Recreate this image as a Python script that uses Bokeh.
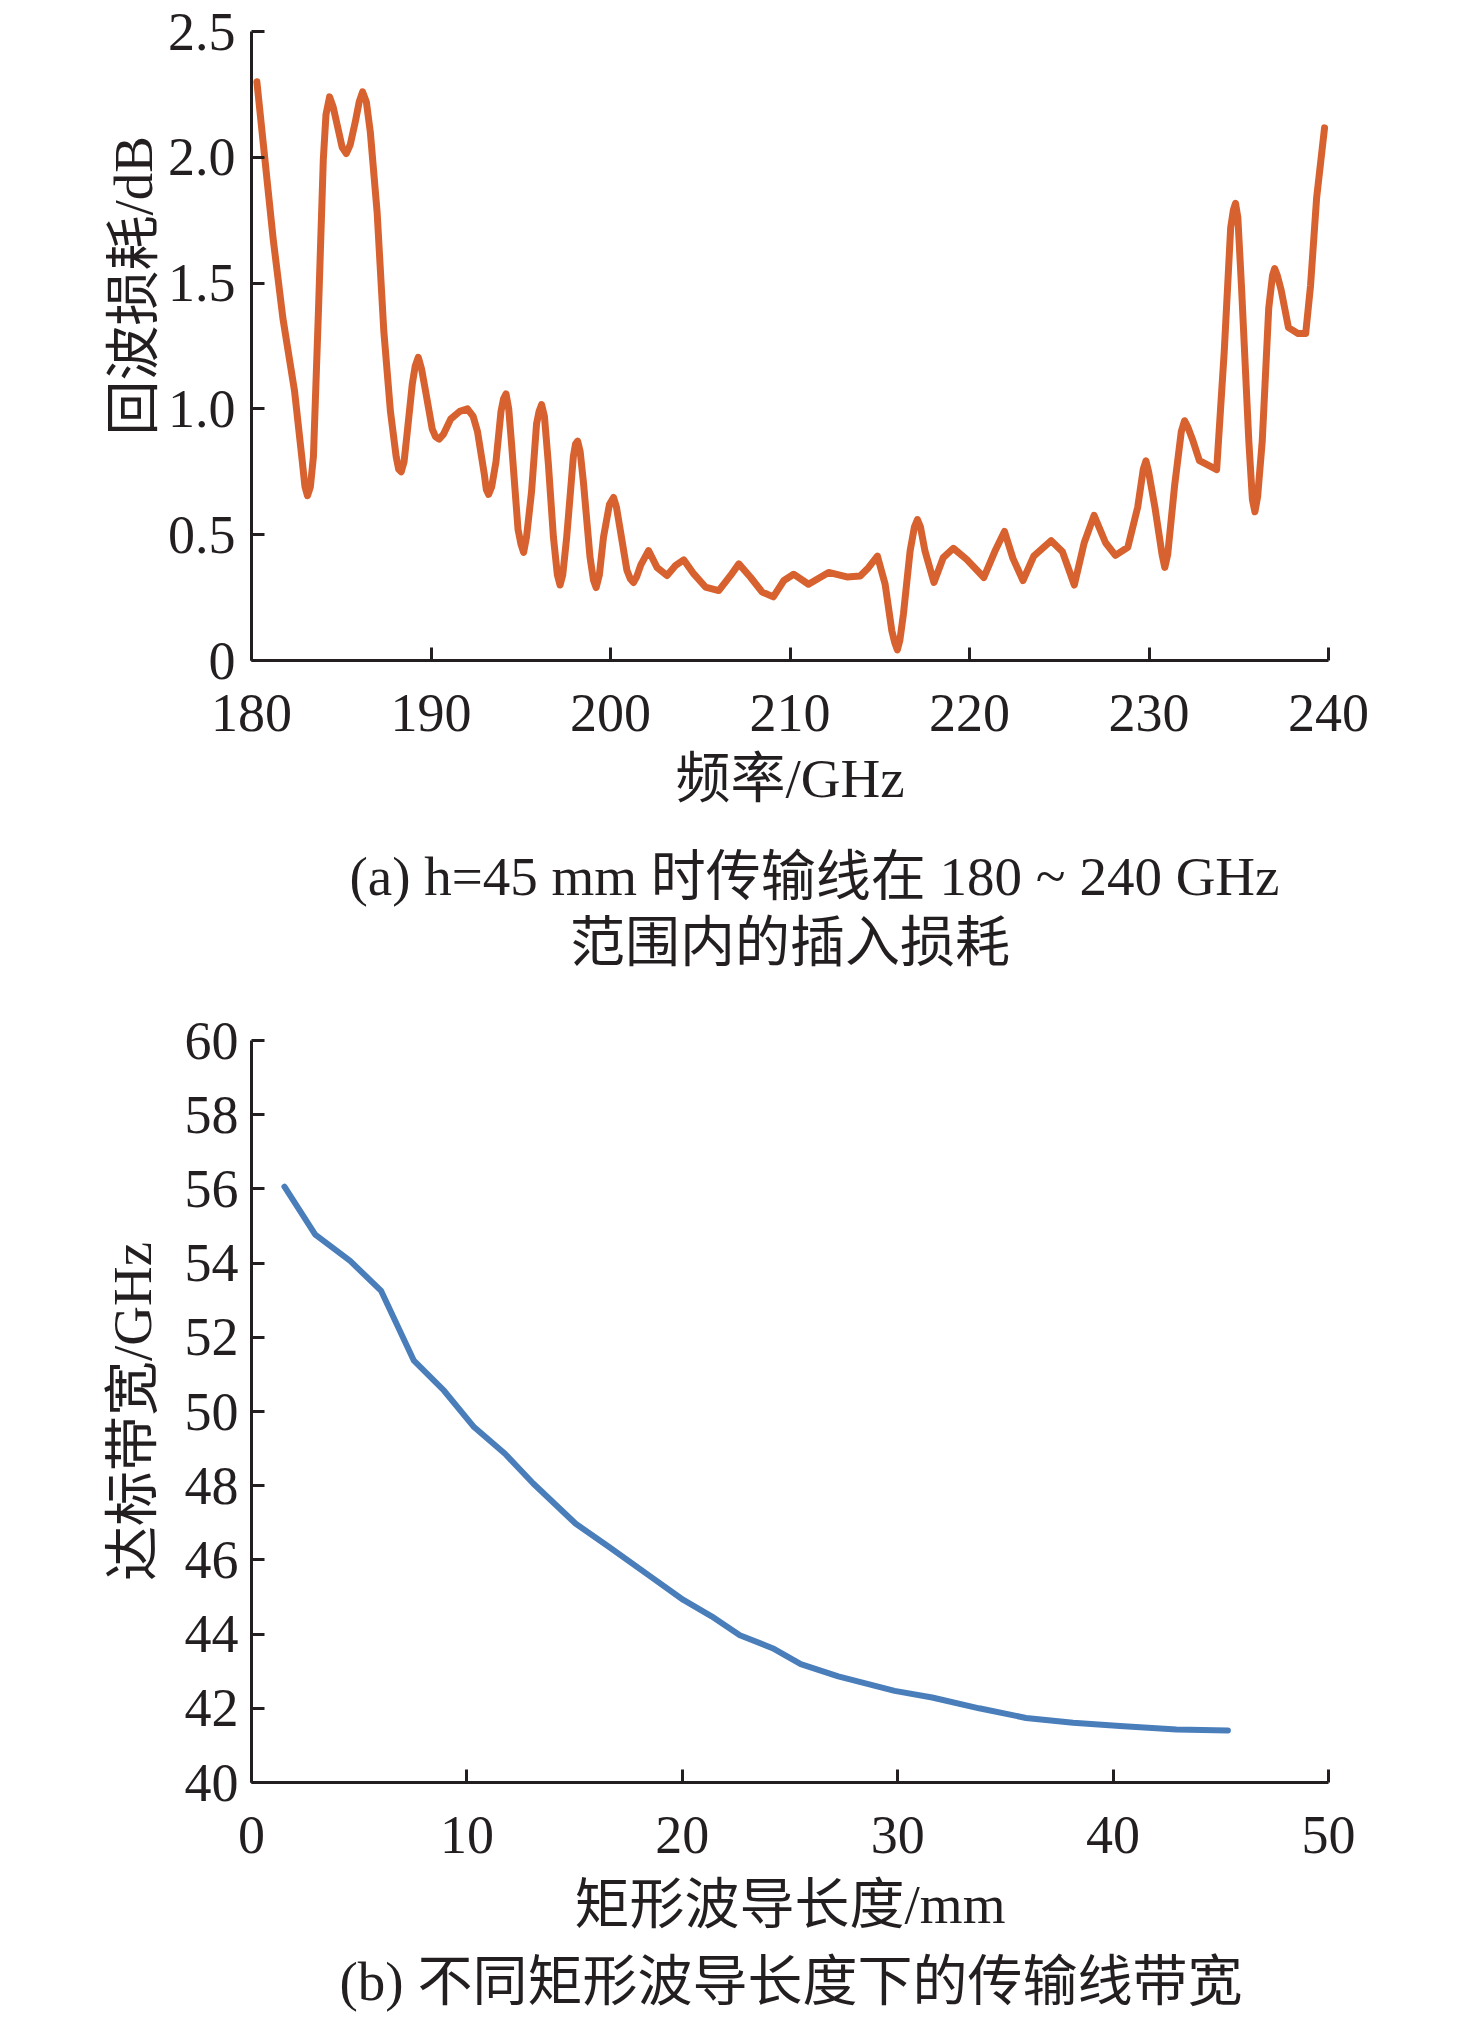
from bokeh.plotting import figure
from bokeh.layouts import column
from bokeh.models import FixedTicker, Range1d, Title
from bokeh.embed import file_html
from bokeh.resources import INLINE

# ---------------- data: (a) loss vs frequency ----------------
freq_ghz = [180.3, 180.75, 181.2, 181.75, 182.4, 182.8, 182.98, 183.12, 183.28, 183.45,
            183.73, 184.0, 184.15, 184.35, 184.55, 184.8, 185.05, 185.28, 185.5, 185.78,
            186.0, 186.19, 186.4, 186.62, 187.0, 187.37, 187.74, 188.06, 188.2, 188.34,
            188.5, 188.68, 188.96, 189.12, 189.29, 189.47, 189.7, 190.07, 190.25, 190.45,
            190.7, 191.1, 191.6, 192.03, 192.35, 192.59, 192.97, 193.08, 193.21, 193.38,
            193.62, 193.9, 194.04, 194.18, 194.33, 194.5, 194.85, 195.02, 195.16, 195.32,
            195.6, 195.88, 196.02, 196.16, 196.32, 196.54, 196.82, 197.04, 197.19, 197.34,
            197.56, 197.93, 198.05, 198.17, 198.31, 198.49, 198.86, 199.05, 199.2, 199.38,
            199.61, 199.94, 200.17, 200.33, 200.54, 200.91, 201.1, 201.28, 201.47, 201.69,
            202.12, 202.59, 203.15, 203.61, 204.08, 204.64, 205.29, 206.03, 206.69, 207.15,
            207.8, 208.45, 209.07, 209.66, 210.2, 211.03, 212.15, 213.17, 213.91, 214.37,
            214.87, 215.3, 215.67, 215.84, 215.98, 216.12, 216.32, 216.69, 216.93, 217.1,
            217.27, 217.52, 218.02, 218.54, 219.1, 219.84, 220.8, 221.42, 221.95, 222.42,
            222.98, 223.58, 224.55, 225.18, 225.84, 226.39, 226.94, 227.58, 228.13, 228.82,
            229.37, 229.68, 229.83, 229.98, 230.33, 230.73, 230.88, 231.04, 231.43, 231.8,
            231.98, 232.15, 232.45, 232.81, 233.77, 234.19, 234.55, 234.7, 234.82, 234.95,
            235.15, 235.56, 235.76, 235.9, 236.05, 236.31, 236.67, 236.88, 237.0, 237.15,
            237.36, 237.77, 238.3, 238.73, 239.0, 239.34, 239.78]
loss_db = [2.30, 1.99, 1.68, 1.36, 1.07, 0.81, 0.69, 0.655, 0.69, 0.81,
           1.39, 1.99, 2.17, 2.24, 2.20, 2.12, 2.04, 2.015, 2.05, 2.14,
           2.22, 2.26, 2.22, 2.10, 1.78, 1.31, 0.99, 0.81, 0.76, 0.75,
           0.79, 0.91, 1.10, 1.17, 1.205, 1.16, 1.07, 0.92, 0.89, 0.88,
           0.90, 0.96, 0.99, 1.00, 0.97, 0.91, 0.74, 0.68, 0.66, 0.69,
           0.79, 0.99, 1.04, 1.06, 1.00, 0.85, 0.52, 0.46, 0.43, 0.49,
           0.67, 0.94, 0.99, 1.017, 0.97, 0.78, 0.49, 0.34, 0.30, 0.34,
           0.49, 0.81, 0.86, 0.872, 0.83, 0.71, 0.41, 0.32, 0.29, 0.34,
           0.49, 0.62, 0.648, 0.61, 0.52, 0.36, 0.325, 0.31, 0.335, 0.38,
           0.437, 0.37, 0.338, 0.377, 0.40, 0.344, 0.292, 0.278, 0.338, 0.384,
           0.331, 0.272, 0.253, 0.318, 0.343, 0.303, 0.35, 0.332, 0.336, 0.369,
           0.415, 0.303, 0.119, 0.07, 0.042, 0.08, 0.185, 0.435, 0.53, 0.56,
           0.53, 0.435, 0.31, 0.409, 0.446, 0.402, 0.33, 0.435, 0.513, 0.406,
           0.318, 0.415, 0.476, 0.432, 0.30, 0.468, 0.577, 0.468, 0.418, 0.45,
           0.609, 0.76, 0.794, 0.75, 0.609, 0.42, 0.37, 0.42, 0.697, 0.91,
           0.953, 0.93, 0.873, 0.794, 0.759, 1.226, 1.72, 1.79, 1.817, 1.76,
           1.49, 0.873, 0.64, 0.591, 0.65, 0.873, 1.40, 1.53, 1.558, 1.53,
           1.473, 1.323, 1.30, 1.30, 1.49, 1.84, 2.117]
x1_ticks = [180, 190, 200, 210, 220, 230, 240]
y1_ticks = [0, 0.5, 1.0, 1.5, 2.0, 2.5]
y1_tick_labels = ["0", "0.5", "1.0", "1.5", "2.0", "2.5"]

# ---------------- data: (b) bandwidth vs waveguide length ----------------
length_mm = [1.53, 2.96, 4.58, 6.02, 7.54, 8.94, 10.33, 11.77, 13.08, 15.04,
             16.57, 18.53, 20.05, 21.36, 22.67, 24.19, 25.5, 27.24, 29.86, 31.6,
             33.78, 35.96, 38.14, 40.32, 42.94, 45.33]
bandwidth_ghz = [56.06, 54.77, 54.06, 53.25, 51.37, 50.56, 49.58, 48.86, 48.06, 46.98,
                 46.36, 45.55, 44.92, 44.48, 43.97, 43.62, 43.19, 42.86, 42.47, 42.29,
                 42.0, 41.74, 41.61, 41.52, 41.43, 41.40]
x2_ticks = [0, 10, 20, 30, 40, 50]
y2_ticks = [40, 42, 44, 46, 48, 50, 52, 54, 56, 58, 60]

INK = "#231f20"
LATIN = "'Liberation Serif'"
MIXED = "'Liberation Serif', 'Noto Sans CJK SC'"
TICK_SIZE = "54px"
TEXT_SIZE = "55px"


def style_axes(p, ylab_standoff, xlab_standoff):
    p.xgrid.visible = False
    p.ygrid.visible = False
    p.outline_line_color = None
    p.background_fill_color = "white"
    p.border_fill_color = "white"
    for ax in (p.xaxis[0], p.yaxis[0]):
        ax.axis_line_width = 3
        ax.axis_line_color = INK
        ax.major_tick_line_width = 3
        ax.major_tick_line_color = INK
        ax.major_tick_in = 13
        ax.major_tick_out = 0
        ax.minor_tick_line_color = None
        ax.major_label_text_font = LATIN
        ax.major_label_text_font_size = TICK_SIZE
        ax.major_label_text_color = INK
        ax.axis_label_text_font = MIXED
        ax.axis_label_text_font_size = TEXT_SIZE
        ax.axis_label_text_font_style = "normal"
        ax.axis_label_text_color = INK
    p.yaxis[0].major_label_standoff = ylab_standoff
    p.xaxis[0].major_label_standoff = 34
    p.xaxis[0].axis_label_standoff = xlab_standoff


def caption(text, standoff, align="center", offset=0, valign="bottom"):
    return Title(text=text, align=align, offset=offset, standoff=standoff,
                 vertical_align=valign, text_font=MIXED,
                 text_font_size=TEXT_SIZE, text_font_style="normal", text_color=INK)


# ---------------- figure (a) ----------------
p1 = figure(width=1460, height=1000, x_range=Range1d(180, 240), y_range=Range1d(0, 2.5),
            output_backend="svg", toolbar_location=None,
            min_border_left=249, min_border_right=132, min_border_top=31, min_border_bottom=340)
p1.line(freq_ghz, loss_db, line_color="#d8622f", line_width=7, line_join="round", line_cap="round")
style_axes(p1, 16, 14)
p1.xaxis.ticker = FixedTicker(ticks=x1_ticks)
p1.yaxis.ticker = FixedTicker(ticks=y1_ticks)
p1.yaxis.major_label_overrides = {t: s for t, s in zip(y1_ticks, y1_tick_labels)}
p1.xaxis.axis_label = "频率/GHz"
p1.add_layout(Title(text="回波损耗/dB", align="left", offset=225, standoff=2,
                    text_font=MIXED, text_font_size=TEXT_SIZE, text_font_style="normal",
                    text_color=INK), "left")
p1.add_layout(caption("(a) h=45 mm 时传输线在 180 ~ 240 GHz", 65, align="left", offset=98), "below")
p1.add_layout(caption("范围内的插入损耗", -56, valign="top"), "below")

# ---------------- figure (b) ----------------
p2 = figure(width=1460, height=1025, x_range=Range1d(0, 50), y_range=Range1d(40, 60),
            output_backend="svg", toolbar_location=None,
            min_border_left=251, min_border_right=129, min_border_top=40, min_border_bottom=243)
p2.line(length_mm, bandwidth_ghz, line_color="#4a7ebb", line_width=6, line_join="round", line_cap="round")
style_axes(p2, 13, 18)
p2.xaxis.ticker = FixedTicker(ticks=x2_ticks)
p2.yaxis.ticker = FixedTicker(ticks=y2_ticks)
p2.xaxis.axis_label = "矩形波导长度/mm"
p2.yaxis.axis_label = "达标带宽/GHz"
p2.yaxis.axis_label_standoff = 19
p2.add_layout(caption("(b) 不同矩形波导长度下的传输线带宽", 22, align="left", offset=88), "below")

layout = column(p1, p2, spacing=0)
open("out.html", "w").write(file_html(layout, INLINE))
